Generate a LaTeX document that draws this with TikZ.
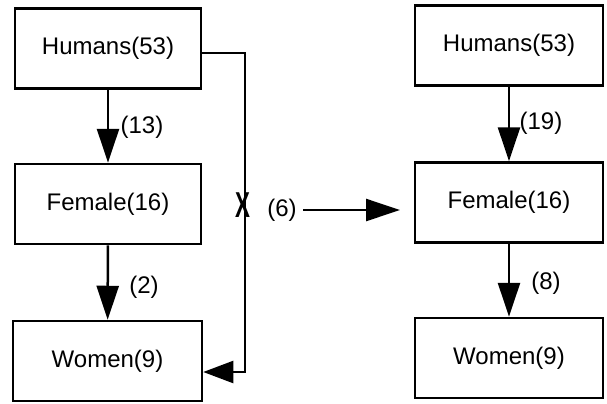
\documentclass[tikz,border=0pt]{standalone}
\usepackage{fontspec}
\setmainfont{Liberation Sans}
\usetikzlibrary{arrows.meta}
\begin{document}
\begin{tikzpicture}[x=0.5pt,y=-0.5pt,
  box/.style={draw,line width=1.25pt,inner sep=0pt,minimum width=93pt,minimum height=40pt,font=\fontsize{12}{14}\selectfont},
  lbl/.style={inner sep=0pt,font=\fontsize{12}{14}\selectfont},
  conn/.style={line width=1.25pt,-{Triangle[length=17pt,width=11pt]}},
  conns/.style={line width=1.1pt,-{Triangle[length=15pt,width=11pt]}}]
\useasboundingbox (0,0) rectangle (607,403);
% left column
\node[box] (H1) at (108,48.5) {Humans(53)};
\node[box] (F1) at (108,204) {Female(16)};
\node[box,minimum width=94.5pt] (W1) at (107.5,361) {Women(9)};
% right column
\node[box,minimum width=94pt] (H2) at (509,45.5) {Humans(53)};
\node[box,minimum width=94pt] (F2) at (509,202.5) {Female(16)};
\node[box,minimum width=94pt] (W2) at (509,358) {Women(9)};
% vertical arrows
\draw[conn] (H1) -- (F1);
\draw[conn] (F1) -- (W1);
\draw[conn] (H2) -- (F2);
\draw[conn] (F2) -- (W2);
% labels
\node[lbl] (l13) at (142,127) {(13)};
\node[lbl] (l2) at (144,287) {(2)};
\node[lbl] (l19) at (541,123) {(19)};
\node[lbl] (l8) at (546,283) {(8)};
\node[lbl] (l6) at (282,210) {(6)};
% bypass route
\coordinate (c1) at (245,53);
\coordinate (c2) at (245,372);
\draw[conns,line join=miter] (H1.east |- c1) -- (c1) -- (c2) -- (W1.east |- c2);
\node[inner sep=0pt,font=\fontsize{18}{20}\selectfont\bfseries] (x) at (243,205) {\scalebox{0.62}[1]{X}};
% transfer arrow
\coordinate (a6) at (303,210);
\coordinate (a6e) at (400,210);
\draw[conn] (a6) -- (a6e);
\end{tikzpicture}
\end{document}
